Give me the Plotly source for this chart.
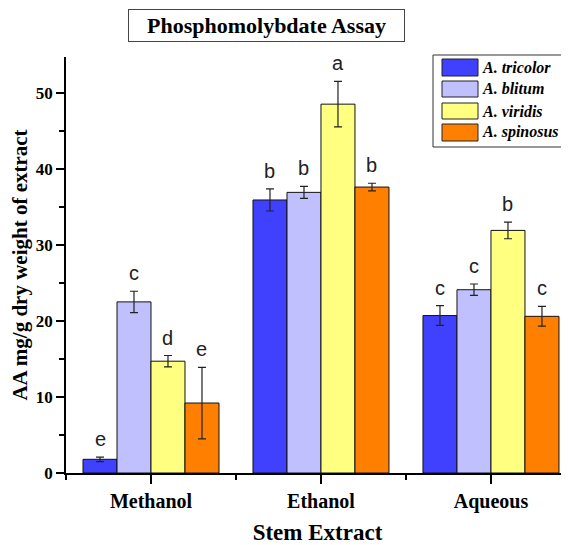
import plotly.graph_objects as go

extracts = ["Methanol", "Ethanol", "Aqueous"]
species = ["A. tricolor", "A. blitum", "A. viridis", "A. spinosus"]
colors = ["#4040FF", "#C0C0FF", "#FFFF80", "#FF8000"]

values = {
    "A. tricolor": [1.8, 35.9, 20.7],
    "A. blitum": [22.5, 36.9, 24.1],
    "A. viridis": [14.7, 48.5, 31.9],
    "A. spinosus": [9.2, 37.6, 20.6],
}
errors = {
    "A. tricolor": [0.3, 1.45, 1.3],
    "A. blitum": [1.4, 0.8, 0.75],
    "A. viridis": [0.75, 3.0, 1.1],
    "A. spinosus": [4.7, 0.5, 1.3],
}
letters = {
    "A. tricolor": ["e", "b", "c"],
    "A. blitum": ["c", "b", "c"],
    "A. viridis": ["d", "a", "b"],
    "A. spinosus": ["e", "b", "c"],
}

x_idx = list(range(len(extracts)))
offsets = [-0.3, -0.1, 0.1, 0.3]
serif = "Liberation Serif"

fig = go.Figure()
for i, sp in enumerate(species):
    fig.add_trace(go.Bar(
        x=x_idx, y=values[sp], name=sp,
        marker=dict(color=colors[i], line=dict(color="#111", width=1)),
        error_y=dict(type="data", array=errors[sp], color="#222", thickness=1.2, width=4),
        showlegend=False,
    ))
    for j, xv in enumerate(x_idx):
        fig.add_annotation(x=xv + offsets[i], y=values[sp][j] + errors[sp][j],
                           text=letters[sp][j], showarrow=False, yanchor="bottom", yshift=5,
                           font=dict(family="Liberation Sans", size=20, color="#222"))

# page coordinates -> paper coordinates (plot area spans x 66..569, y 57..473 on the page)
def px2x(p):
    return (p - 66) / 503
def px2y(p):
    return (473 - p) / 416

# manual legend
fig.add_shape(type="rect", xref="paper", yref="paper",
              x0=px2x(433), x1=px2x(565), y0=px2y(147), y1=px2y(55),
              line=dict(color="#333", width=1), fillcolor="white")
rows = [(59, 76), (81, 97), (103, 119), (124, 141)]
for i, sp in enumerate(species):
    t, b = rows[i]
    fig.add_shape(type="rect", xref="paper", yref="paper",
                  x0=px2x(442), x1=px2x(478), y0=px2y(b), y1=px2y(t),
                  line=dict(color="#222", width=1), fillcolor=colors[i])
    fig.add_annotation(xref="paper", yref="paper", x=px2x(480), y=px2y((t + b) / 2),
                       text="<b><i>" + sp + "</i></b>", showarrow=False,
                       xanchor="left", yanchor="middle",
                       font=dict(family=serif, size=16, color="black"))

# title box
fig.add_annotation(xref="paper", yref="paper", x=px2x(266.5), y=px2y(25.5),
                   xanchor="center", yanchor="middle",
                   text="<b>Phosphomolybdate Assay</b>", showarrow=False,
                   font=dict(family=serif, size=22, color="black"),
                   bordercolor="#444", borderwidth=1, borderpad=2, bgcolor="white",
                   width=271, height=27)

# the page body adds an 8px offset, so the figure is 8px smaller and margins reduced
fig.update_layout(
    width=561, height=537,
    margin=dict(l=58, r=0, t=49, b=72),
    plot_bgcolor="white", paper_bgcolor="white",
    barmode="group", bargap=0.2, bargroupgap=0,
    xaxis=dict(range=[-0.5, 2.459], tickvals=x_idx, ticktext=["<b>" + e + "</b>" for e in extracts],
               showline=True, linecolor="black", linewidth=1.5, ticks="outside", ticklen=9,
               tickwidth=1.5, tickcolor="black", showgrid=False, zeroline=False,
               minor=dict(tickvals=[-0.5, 0.5, 1.5], ticks="outside", ticklen=5, tickwidth=1.5, tickcolor="black"),
               tickfont=dict(family=serif, size=20, color="black"),
               title=dict(text="<b>Stem Extract</b>", font=dict(family=serif, size=23, color="black"), standoff=12)),
    yaxis=dict(range=[0, 54.7], tickvals=[0, 10, 20, 30, 40, 50], ticktext=["<b>%d</b>" % v for v in [0, 10, 20, 30, 40, 50]],
               showline=True, linecolor="black", linewidth=1.5, ticks="outside", ticklen=8,
               tickwidth=1.5, tickcolor="black", showgrid=False, zeroline=False,
               minor=dict(tickvals=[5, 15, 25, 35, 45], ticks="outside", ticklen=5, tickwidth=1.5, tickcolor="black"),
               tickfont=dict(family=serif, size=17, color="black"),
               title=dict(text="<b>AA mg/g dry weight of extract</b>", font=dict(family=serif, size=21, color="black"), standoff=7)),
)

fig.write_html("out.html")
